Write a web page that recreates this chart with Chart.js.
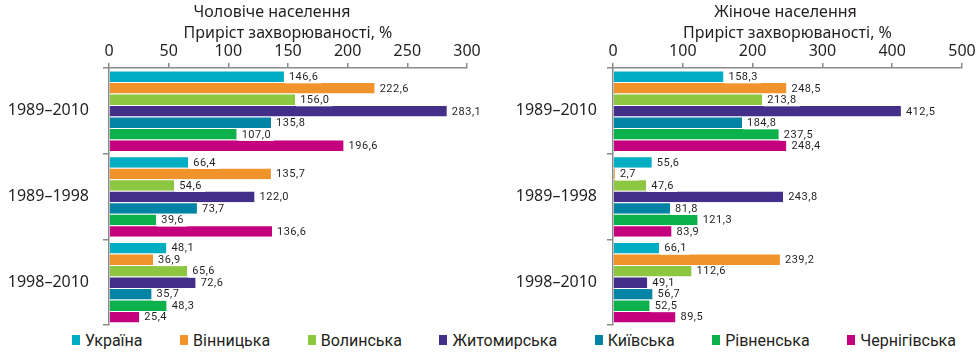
<!DOCTYPE html>
<html>
<head>
<meta charset="utf-8">
<script src="https://cdn.jsdelivr.net/npm/chart.js@4"></script>
<style>
  body { margin: 0; background: #fff; width: 980px; height: 354px; overflow: hidden; position: relative; font-family: "Noto Sans", sans-serif; }
  .panel { position: absolute; top: 0; width: 490px; height: 330px; }
  #legend { position: absolute; left: 72px; right: 24px; top: 330px; height: 20px; display: flex; justify-content: space-between; align-items: center; font-family: Roboto, sans-serif; font-size: 16px; color: #231f20; }
  .item { display: flex; align-items: center; white-space: nowrap; }
  .sw { width: 8px; height: 10px; margin-right: 5px; }
</style>
</head>
<body>
<div class="panel" style="left:0"><canvas id="male" width="490" height="330"></canvas></div>
<div class="panel" style="left:490px"><canvas id="female" width="490" height="330"></canvas></div>
<div id="legend"></div>
<script>
// Дані з рисунку
const periods = ['1989–2010', '1989–1998', '1998–2010'];
const regions = ['Україна', 'Вінницька', 'Волинська', 'Житомирська', 'Київська', 'Рівненська', 'Чернігівська'];
const colors = ['#00adc3', '#f0932b', '#8dc641', '#432e8a', '#0083a4', '#0db14b', '#c4007e'];

const male_1989_2010 = [146.6, 222.6, 156.0, 283.1, 135.8, 107.0, 196.6];
const male_1989_1998 = [66.4, 135.7, 54.6, 122.0, 73.7, 39.6, 136.6];
const male_1998_2010 = [48.1, 36.9, 65.6, 72.6, 35.7, 48.3, 25.4];

const female_1989_2010 = [158.3, 248.5, 213.8, 412.5, 184.8, 237.5, 248.4];
const female_1989_1998 = [55.6, 2.7, 47.6, 243.8, 81.8, 121.3, 83.9];
const female_1998_2010 = [66.1, 239.2, 112.6, 49.1, 56.7, 52.5, 89.5];

const axisTitle = 'Приріст захворюваності, %';

// підписи значень з білим фоном
const valueLabels = {
  id: 'valueLabels',
  afterDatasetsDraw(chart) {
    const ctx = chart.ctx;
    ctx.save();
    ctx.font = '11px Roboto';
    ctx.letterSpacing = '0.5px';
    ctx.textBaseline = 'middle';
    chart.data.datasets.forEach((ds, i) => {
      chart.getDatasetMeta(i).data.forEach((bar, j) => {
        const txt = ds.data[j].toFixed(1).replace('.', ',');
        const w = ctx.measureText(txt).width;
        const x = bar.x + 1, y = bar.y + 1;
        ctx.fillStyle = '#fff';
        ctx.fillRect(x, y - 6, w + 7, 12);
        ctx.fillStyle = '#231f20';
        ctx.fillText(txt, x + 4, y);
      });
    });
    ctx.restore();
  }
};

const headings = {
  id: 'headings',
  afterDraw(chart, args, opts) {
    const ctx = chart.ctx, a = chart.chartArea;
    const cx = (a.left + a.right) / 2;
    ctx.save();
    ctx.font = '16px "Noto Sans"';
    ctx.fillStyle = '#231f20';
    ctx.textAlign = 'center';
    ctx.textBaseline = 'middle';
    ctx.fillText(opts.text, cx + opts.shift, 12);
    ctx.fillText(axisTitle, cx, 33);
    ctx.restore();
  }
};

function makeChart(id, title, rows, max, step, yWidth, padRight, shift, tickPad) {
  return new Chart(document.getElementById(id), {
    type: 'bar',
    data: {
      labels: periods,
      datasets: regions.map((r, i) => ({
        label: r,
        data: rows.map(row => row[i]),
        backgroundColor: colors[i],
        borderColor: '#ffffff',
        borderWidth: { top: 1, right: 0, bottom: 0, left: 0 },
        borderSkipped: false,
        barPercentage: 1,
        categoryPercentage: 0.94
      }))
    },
    options: {
      indexAxis: 'y',
      responsive: false,
      animation: false,
      layout: { padding: { top: 0, right: padRight, bottom: 5, left: 0 } },
      plugins: {
        legend: { display: false },
        tooltip: { enabled: false },
        headings: { text: title, shift: shift }
      },
      scales: {
        x: {
          position: 'top',
          min: 0,
          max: max,
          ticks: { stepSize: step, color: '#231f20', font: { family: 'Noto Sans', size: 16 }, padding: 2, maxRotation: 0 },
          grid: { drawOnChartArea: false, tickLength: 5, color: '#8a8a8a', lineWidth: 1.5 },
          border: { color: '#8a8a8a', width: 1.5 },
          afterFit(s) { s.height = 68; s.paddingLeft = 0; s.paddingRight = 0; }
        },
        y: {
          ticks: { color: '#231f20', font: { family: 'Noto Sans', size: 16 }, padding: tickPad },
          grid: { drawOnChartArea: false, tickLength: 6, color: '#8a8a8a', lineWidth: 1.5, offset: true },
          border: { color: '#8a8a8a', width: 1.5 },
          afterFit(s) { s.width = yWidth; s.paddingTop = 0; s.paddingBottom = 0; }
        }
      }
    },
    plugins: [valueLabels, headings]
  });
}

makeChart('male', 'Чоловіче населення', [male_1989_2010, male_1989_1998, male_1998_2010], 300, 50, 109, 23, -16, 14);
makeChart('female', 'Жіноче населення', [female_1989_2010, female_1989_1998, female_1998_2010], 500, 100, 123, 18, -2, 10);

// легенда
const legend = document.getElementById('legend');
regions.forEach((r, i) => {
  const item = document.createElement('div');
  item.className = 'item';
  item.innerHTML = `<span class="sw" style="background:${colors[i]}"></span>${r}`;
  legend.appendChild(item);
});
</script>
</body>
</html>
